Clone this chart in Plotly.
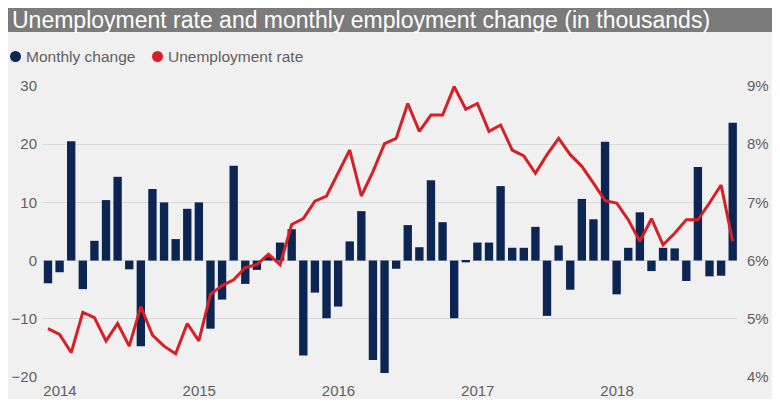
import plotly.graph_objects as go

# months Jan 2014 .. Dec 2018
months = [f"{y}-{m:02d}" for y in range(2014, 2019) for m in range(1, 13)]
year_ticks = ["2014-01", "2015-01", "2016-01", "2017-01", "2018-01"]
year_labels = ["2014", "2015", "2016", "2017", "2018"]
left_ticks = [-20, -10, 0, 10, 20, 30]
right_ticks = [4, 5, 6, 7, 8, 9]
right_labels = ["4%", "5%", "6%", "7%", "8%", "9%"]

# monthly employment change (thousands)
monthly_change = [
    -3.9, -2.0, 20.5, -4.9, 3.4, 10.4, 14.4, -1.5, -14.7, 12.3, 10.0, 3.7,
    8.9, 10.0, -11.7, -6.7, 16.3, -4.0, -1.6, 0.8, 3.1, 5.4, -16.3, -5.5,
    -9.9, -7.9, 3.3, 8.5, -17.1, -19.3, -1.4, 6.1, 2.3, 13.8, 6.6, -9.9,
    -0.3, 3.1, 3.1, 12.8, 2.2, 2.2, 5.8, -9.5, 2.6, -5.0, 10.6, 7.1,
    20.4, -5.8, 2.2, 8.3, -1.8, 2.2, 2.1, -3.5, 16.1, -2.7, -2.6, 23.7,
]

# unemployment rate (%)
unemployment_rate = [
    4.83, 4.73, 4.42, 5.11, 5.02, 4.62, 4.92, 4.53, 5.21, 4.72, 4.53, 4.40,
    4.92, 4.62, 5.42, 5.57, 5.67, 5.88, 5.93, 6.11, 5.93, 6.62, 6.72, 7.02,
    7.11, 7.50, 7.90, 7.11, 7.53, 8.01, 8.10, 8.70, 8.22, 8.50, 8.50, 8.99,
    8.60, 8.70, 8.22, 8.33, 7.90, 7.80, 7.50, 7.82, 8.10, 7.82, 7.62, 7.33,
    7.03, 6.99, 6.70, 6.33, 6.72, 6.27, 6.47, 6.70, 6.70, 6.99, 7.30, 6.33,
]

navy = "#0c2552"
red = "#d71f26"
grey_txt = "#5f5f5f"
bg = "#f0f0f0"
font = "Liberation Sans, Arial, sans-serif"

# page body has an 8px margin, keep the figure inside the 780x407 window
OFF = 8
W, H = 780 - 2 * OFF, 407 - 2 * OFF
ml, mr, mt, mb = 43 - OFF, W - (737 - OFF), 86 - OFF, H - (377 - OFF)
pw, ph = W - ml - mr, H - mt - mb


# helpers: window pixel -> paper coords
def px(x):
    return (x - OFF - ml) / pw


def py(y):
    return (H - mb - (y - OFF)) / ph


fig = go.Figure()

fig.add_trace(go.Bar(x=months, y=monthly_change, name="Monthly change",
                     marker=dict(color=navy, line=dict(width=0)), showlegend=False))
fig.add_trace(go.Scatter(x=months, y=unemployment_rate, name="Unemployment rate", yaxis="y2",
                         mode="lines", line=dict(color=red, width=3), showlegend=False))

# title band
fig.add_shape(type="rect", xref="paper", yref="paper", x0=px(OFF), x1=px(780 - OFF), y0=py(32), y1=py(OFF),
              fillcolor="#7b7b7b", line=dict(width=0), layer="below")
fig.add_annotation(text="Unemployment rate and monthly employment change (in thousands)",
                   xref="paper", yref="paper", x=px(11), y=py(20), xanchor="left", yanchor="middle",
                   showarrow=False, borderpad=0, font=dict(family=font, size=23, color="white"))

# legend
for cx, tx, col, label in [(15.5, 24, navy, "Monthly change"), (157.5, 166, red, "Unemployment rate")]:
    fig.add_shape(type="circle", xref="paper", yref="paper", xsizemode="pixel", ysizemode="pixel",
                  xanchor=px(cx), yanchor=py(56.5), x0=-5.5, x1=5.5, y0=-5.5, y1=5.5,
                  fillcolor=col, line=dict(width=0))
    fig.add_annotation(text=label, xref="paper", yref="paper", x=px(tx), y=py(56.5),
                       xanchor="left", yanchor="middle", showarrow=False,
                       font=dict(family=font, size=15.5, color=grey_txt))

fig.update_layout(
    width=W, height=H,
    margin=dict(l=ml, r=mr, t=mt, b=mb),
    paper_bgcolor=bg, plot_bgcolor=bg,
    bargap=0.28,
    font=dict(family=font, size=15, color=grey_txt),
    xaxis=dict(type="category", range=[-0.43, 59.37], tickvals=year_ticks, ticktext=year_labels,
               showgrid=False, zeroline=False, showline=False, ticks="", automargin=False,
               ticklabelshift=12, ticklabelstandoff=3),
    yaxis=dict(range=[-20, 30], tickvals=left_ticks, showgrid=True, automargin=False,
               gridcolor="#d8d8d8", gridwidth=1, zeroline=False, showline=False, ticks="",
               ticklabelstandoff=5),
    yaxis2=dict(range=[4, 9], tickvals=right_ticks, ticktext=right_labels, overlaying="y",
                side="right", showgrid=False, zeroline=False, showline=False, ticks="",
                automargin=False, ticklabelstandoff=9),
)

fig.write_html("out.html")
